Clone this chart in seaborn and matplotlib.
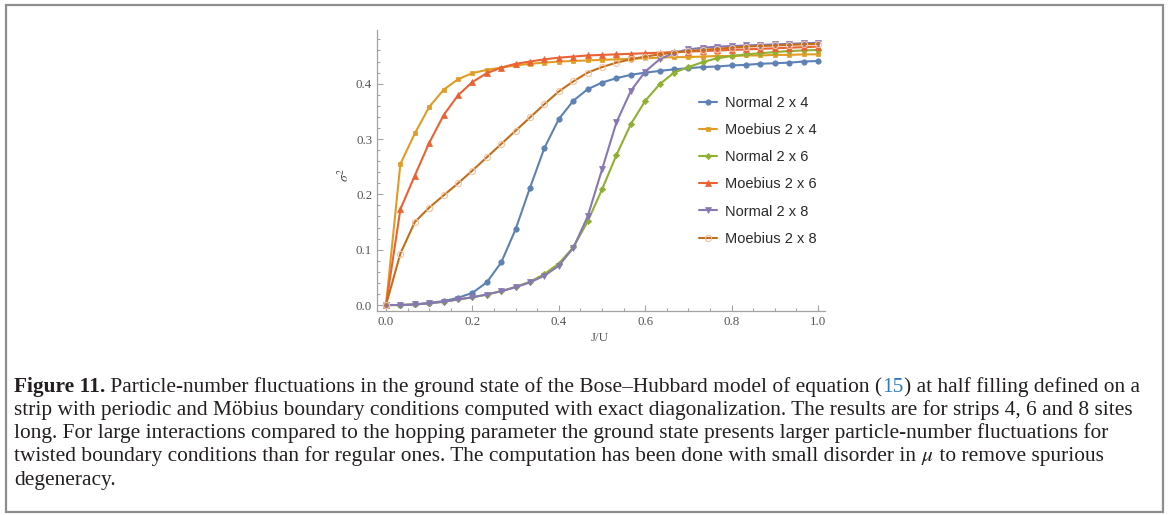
import matplotlib
matplotlib.use("Agg")
import matplotlib.pyplot as plt
import numpy as np
import pandas as pd
import seaborn as sns
from matplotlib.transforms import IdentityTransform
from matplotlib.patches import Rectangle
from matplotlib.ticker import MultipleLocator, FormatStrFormatter

# ---------------- data ----------------
j_over_u = [0.0, 0.0333, 0.0667, 0.1, 0.1333, 0.1667, 0.2, 0.2333, 0.2667, 0.3,
            0.3333, 0.3667, 0.4, 0.4333, 0.4667, 0.5, 0.5333, 0.5667, 0.6, 0.6333,
            0.6667, 0.7, 0.7333, 0.7667, 0.8, 0.8333, 0.8667, 0.9, 0.9333, 0.9667, 1.0]

normal_2x4 = [0.0, 0.0, 0.001, 0.004, 0.007, 0.013, 0.022, 0.041, 0.077, 0.137,
              0.212, 0.284, 0.336, 0.369, 0.390, 0.402, 0.410, 0.416, 0.420, 0.423,
              0.426, 0.428, 0.430, 0.431, 0.433, 0.434, 0.436, 0.437, 0.438, 0.440, 0.441]
moebius_2x4 = [0.0, 0.255, 0.310, 0.358, 0.389, 0.408, 0.419, 0.425, 0.429, 0.433,
               0.436, 0.438, 0.440, 0.441, 0.442, 0.443, 0.444, 0.445, 0.446, 0.447,
               0.448, 0.448, 0.449, 0.450, 0.450, 0.451, 0.451, 0.452, 0.452, 0.453, 0.453]
normal_2x6 = [0.0, 0.0, 0.001, 0.003, 0.006, 0.010, 0.014, 0.019, 0.025, 0.033,
              0.042, 0.056, 0.075, 0.104, 0.151, 0.209, 0.271, 0.327, 0.369, 0.399,
              0.420, 0.430, 0.439, 0.446, 0.450, 0.453, 0.455, 0.457, 0.459, 0.460, 0.461]
moebius_2x6 = [0.0, 0.173, 0.234, 0.293, 0.343, 0.379, 0.403, 0.419, 0.429, 0.436,
               0.440, 0.444, 0.447, 0.449, 0.451, 0.452, 0.453, 0.454, 0.455, 0.456,
               0.457, 0.458, 0.459, 0.460, 0.461, 0.462, 0.463, 0.464, 0.465, 0.466, 0.467]
normal_2x8 = [0.0, 0.0, 0.001, 0.003, 0.006, 0.010, 0.014, 0.019, 0.025, 0.032,
              0.041, 0.053, 0.071, 0.103, 0.160, 0.245, 0.330, 0.387, 0.422, 0.444,
              0.456, 0.462, 0.465, 0.467, 0.468, 0.469, 0.470, 0.471, 0.472, 0.473, 0.474]
moebius_2x8 = [0.0, 0.093, 0.150, 0.176, 0.198, 0.220, 0.243, 0.267, 0.291, 0.315,
               0.339, 0.363, 0.386, 0.404, 0.420, 0.430, 0.438, 0.444, 0.449, 0.453,
               0.456, 0.459, 0.461, 0.463, 0.465, 0.467, 0.468, 0.469, 0.470, 0.471, 0.472]

series_names = ["Normal 2 x 4", "Moebius 2 x 4", "Normal 2 x 6",
                "Moebius 2 x 6", "Normal 2 x 8", "Moebius 2 x 8"]
series_values = [normal_2x4, moebius_2x4, normal_2x6, moebius_2x6, normal_2x8, moebius_2x8]

x_label = "J/U"
y_label = r"$\sigma^2$"

caption_lines = [
    [("Figure 11.", "bold", "#231f20"),
     (" Particle-number fluctuations in the ground state of the Bose\u2013Hubbard model of equation (", "normal", "#231f20"),
     ("15", "normal", "#2e7bbf"),
     (") at half filling defined on a", "normal", "#231f20")],
    [("strip with periodic and M\u00f6bius boundary conditions computed with exact diagonalization. The results are for strips 4, 6 and 8 sites", "normal", "#231f20")],
    [("long. For large interactions compared to the hopping parameter the ground state presents larger particle-number fluctuations for", "normal", "#231f20")],
    [("twisted boundary conditions than for regular ones. The computation has been done with small disorder in ", "normal", "#231f20"),
     (r"$\mu$", "normal", "#231f20"),
     (" to remove spurious", "normal", "#231f20")],
    [("degeneracy.", "normal", "#231f20")],
]

# ---------------- style ----------------
colors = ["#5E81B5", "#E19C24", "#8FB032", "#EB6235", "#8778B3", "#C56E1A"]
markers = ["o", "s", "D", "^", "v", "o"]
msizes = [3.9, 3.4, 3.2, 4.2, 4.2, 4.4]

sns.set_theme(style="ticks")
plt.rcParams["font.family"] = ["Liberation Serif", "DejaVu Serif"]
plt.rcParams["mathtext.fontset"] = "stix"

W, H = 1168, 515
fig = plt.figure(figsize=(W / 100, H / 100), dpi=100)

def fx(px):
    return px / W

def fy(py):
    return 1 - py / H

ax = fig.add_axes([fx(377), fy(311), fx(825) - fx(377), fy(30) - fy(311)])

df = pd.DataFrame({"J/U": j_over_u * len(series_names),
                   "sigma2": sum(series_values, []),
                   "series": sum([[n] * len(j_over_u) for n in series_names], [])})

for name, c, m, ms in zip(series_names, colors, markers, msizes):
    sub = df[df["series"] == name]
    open_marker = name == "Moebius 2 x 8"
    sns.lineplot(data=sub, x="J/U", y="sigma2", ax=ax, color=c, lw=1.5,
                 marker=m, markersize=ms,
                 markerfacecolor="none" if open_marker else c,
                 markeredgecolor="#f0c4a0" if open_marker else c,
                 markeredgewidth=0.8 if open_marker else 0.5,
                 label=name, legend=False)

ax.set_xlim(-0.0208, 1.016)
ax.set_ylim(-0.0108, 0.497)
ax.set_xlabel("")
ax.set_ylabel("")

axis_gray = "#a3a3a3"
for s in ["top", "right"]:
    ax.spines[s].set_visible(False)
for s in ["left", "bottom"]:
    ax.spines[s].set_color(axis_gray)
    ax.spines[s].set_linewidth(0.9)

ax.xaxis.set_major_locator(MultipleLocator(0.2))
ax.xaxis.set_minor_locator(MultipleLocator(0.05))
ax.yaxis.set_major_locator(MultipleLocator(0.1))
ax.yaxis.set_minor_locator(MultipleLocator(0.02))
ax.xaxis.set_major_formatter(FormatStrFormatter("%.1f"))
ax.yaxis.set_major_formatter(FormatStrFormatter("%.1f"))
ax.tick_params(which="both", direction="in", color=axis_gray, width=0.8,
               labelsize=9.3, labelcolor="#555555", pad=3.5)
ax.tick_params(which="major", length=4.5)
ax.tick_params(which="minor", length=2.5)
for lab in ax.get_xticklabels() + ax.get_yticklabels():
    lab.set_fontfamily(["Liberation Serif"])

fig.text(fx(600), fy(338), x_label, ha="center", va="center", fontsize=9.3,
         color="#555555", family=["Liberation Serif"])
fig.text(fx(344), fy(175), y_label, ha="center", va="center", fontsize=10,
         color="#555555", rotation=90)

handles, labels = ax.get_legend_handles_labels()
leg = ax.legend(handles, labels, loc="upper left",
                bbox_to_anchor=(fx(699), fy(96)), bbox_transform=fig.transFigure,
                frameon=False, borderpad=0, borderaxespad=0,
                handlelength=1.2, handletextpad=0.6, labelspacing=0.9,
                prop={"family": ["Liberation Sans"], "size": 10.5})
for t in leg.get_texts():
    t.set_color("#2a2a2a")

# border box
fig.patches.append(Rectangle((6, 3), 1157, 507, transform=IdentityTransform(),
                             fill=False, edgecolor="#8e8e8e", linewidth=1.6))

# caption
renderer = fig.canvas.get_renderer()
baselines = [392, 415, 438, 461, 485]
cap_size = 15.4
for line, base in zip(caption_lines, baselines):
    x = 14
    for txt, weight, col in line:
        t = fig.text(x, H - base, txt, transform=IdentityTransform(),
                     ha="left", va="baseline", fontsize=cap_size,
                     fontweight=weight, color=col,
                     family=["Liberation Serif", "DejaVu Serif"])
        bb = t.get_window_extent(renderer)
        x = bb.x1

fig.savefig("out.png", dpi=100)
